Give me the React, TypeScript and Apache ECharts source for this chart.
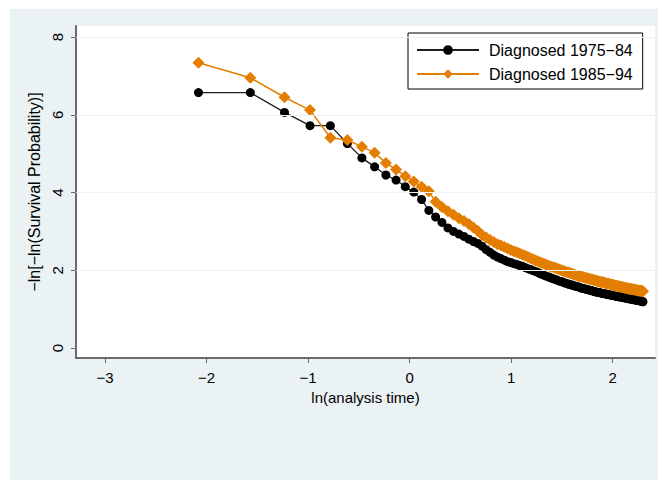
import React, { useEffect, useRef } from "react";
import * as echarts from "echarts";

// Analysis time in months (interval midpoints) at which the curves are evaluated
const months = [
  1.5, 2.5, 3.5, 4.5, 5.5, 6.5, 7.5, 8.5, 9.5, 10.5,
  11.5, 12.5, 13.5, 14.5, 15.5, 16.5, 17.5, 18.5, 19.5, 20.5,
  21.5, 22.5, 23.5, 24.5, 25.5, 26.5, 27.5, 28.5, 29.5, 30.5,
  31.5, 32.5, 33.5, 34.5, 35.5, 36.5, 37.5, 38.5, 39.5, 40.5,
  41.5, 42.5, 43.5, 44.5, 45.5, 46.5, 47.5, 48.5, 49.5, 50.5,
  51.5, 52.5, 53.5, 54.5, 55.5, 56.5, 57.5, 58.5, 59.5, 60.5,
  61.5, 62.5, 63.5, 64.5, 65.5, 66.5, 67.5, 68.5, 69.5, 70.5,
  71.5, 72.5, 73.5, 74.5, 75.5, 76.5, 77.5, 78.5, 79.5, 80.5,
  81.5, 82.5, 83.5, 84.5, 85.5, 86.5, 87.5, 88.5, 89.5, 90.5,
  91.5, 92.5, 93.5, 94.5, 95.5, 96.5, 97.5, 98.5, 99.5, 100.5,
  101.5, 102.5, 103.5, 104.5, 105.5, 106.5, 107.5, 108.5, 109.5, 110.5,
  111.5, 112.5, 113.5, 114.5, 115.5, 116.5, 117.5, 118.5, 119.5,
];

// -ln[-ln(S(t))], diagnosed 1975-84
const diag7584 = [
  6.57, 6.57, 6.06, 5.72, 5.72, 5.26, 4.89, 4.66, 4.45, 4.32,
  4.15, 4.01, 3.82, 3.54, 3.37, 3.23, 3.09, 3.0, 2.93, 2.87,
  2.8, 2.74, 2.69, 2.62, 2.53, 2.46, 2.39, 2.34, 2.3, 2.26,
  2.22, 2.2, 2.17, 2.15, 2.12, 2.1, 2.07, 2.04, 2.02, 1.99,
  1.97, 1.94, 1.91, 1.89, 1.86, 1.84, 1.82, 1.8, 1.78, 1.76,
  1.74, 1.72, 1.71, 1.69, 1.67, 1.66, 1.64, 1.63, 1.62, 1.6,
  1.59, 1.58, 1.57, 1.55, 1.54, 1.53, 1.52, 1.51, 1.5, 1.49,
  1.48, 1.47, 1.46, 1.45, 1.44, 1.43, 1.43, 1.42, 1.41, 1.4,
  1.4, 1.39, 1.38, 1.38, 1.37, 1.37, 1.36, 1.35, 1.35, 1.34,
  1.33, 1.33, 1.32, 1.32, 1.31, 1.31, 1.3, 1.3, 1.29, 1.29,
  1.28, 1.28, 1.27, 1.27, 1.26, 1.26, 1.25, 1.25, 1.24, 1.24,
  1.23, 1.23, 1.22, 1.22, 1.21, 1.21, 1.2, 1.2, 1.19,
];

// -ln[-ln(S(t))], diagnosed 1985-94
const diag8594 = [
  7.34, 6.95, 6.45, 6.12, 5.41, 5.35, 5.18, 5.02, 4.76, 4.59,
  4.42, 4.28, 4.15, 4.03, 3.76, 3.63, 3.52, 3.43, 3.34, 3.27,
  3.19, 3.1, 3.01, 2.91, 2.84, 2.78, 2.73, 2.67, 2.64, 2.6,
  2.56, 2.52, 2.49, 2.46, 2.43, 2.4, 2.37, 2.34, 2.31, 2.28,
  2.25, 2.23, 2.2, 2.18, 2.16, 2.13, 2.11, 2.09, 2.08, 2.06,
  2.04, 2.02, 2.0, 1.98, 1.97, 1.95, 1.94, 1.92, 1.91, 1.89,
  1.88, 1.86, 1.85, 1.84, 1.83, 1.82, 1.81, 1.8, 1.79, 1.78,
  1.77, 1.76, 1.75, 1.74, 1.73, 1.72, 1.71, 1.7, 1.7, 1.69,
  1.68, 1.67, 1.66, 1.65, 1.65, 1.64, 1.63, 1.62, 1.62, 1.61,
  1.6, 1.6, 1.59, 1.58, 1.58, 1.57, 1.56, 1.56, 1.55, 1.55,
  1.54, 1.54, 1.53, 1.52, 1.52, 1.52, 1.51, 1.51, 1.5, 1.5,
  1.49, 1.49, 1.48, 1.48, 1.47, 1.47, 1.47, 1.46, 1.46,
];

const seriesNames = ["Diagnosed 1975\u221284", "Diagnosed 1985\u221294"];
const xTicks = [-3, -2, -1, 0, 1, 2];
const yTicks = [0, 2, 4, 6, 8];
const yGridValues = [2, 4, 6, 8];

const FONT = "'Liberation Sans', Arial, Helvetica, sans-serif";
const BG = "#EAF2F3";
const AXIS_GRAY = "#6a6a6a";
const ORANGE = "#E37E00";

const minus = (v: number) => (v < 0 ? "\u2212" + Math.abs(v) : String(v));

export default function App() {
  const ref = useRef<HTMLDivElement>(null);

  useEffect(() => {
    if (!ref.current) return;
    const chart = echarts.init(ref.current, undefined, { renderer: "svg" });

    const toPoints = (vals: number[]) =>
      months.map((m, i) => [Math.log(m / 12), vals[i]]);

    chart.setOption({
      animation: false,
      backgroundColor: "#ffffff",
      graphic: {
        elements: [
          {
            type: "rect",
            z: -100,
            silent: true,
            shape: { x: 10, y: 9, width: 648, height: 471 },
            style: { fill: BG },
          },
        ],
      },
      grid: {
        left: 76,
        top: 26,
        width: 579,
        height: 332,
        show: true,
        backgroundColor: "#ffffff",
        borderWidth: 0,
      },
      legend: {
        orient: "vertical",
        left: 408,
        top: 33,
        data: seriesNames,
        itemWidth: 62,
        itemHeight: 12,
        itemGap: 8,
        padding: [9, 10, 7, 8],
        backgroundColor: "#ffffff",
        borderColor: "#000000",
        borderWidth: 1,
        borderRadius: 0,
        selectedMode: false,
        textStyle: {
          fontFamily: FONT,
          fontSize: 16,
          color: "#000000",
          padding: [0, 0, 0, 5],
        },
      },
      xAxis: {
        type: "value",
        min: -3.2856,
        max: 2.4166,
        name: "ln(analysis time)",
        nameLocation: "middle",
        nameGap: 20,
        nameTextStyle: { fontFamily: FONT, fontSize: 15, color: "#000" },
        axisLine: {
          show: true,
          onZero: false,
          lineStyle: { color: AXIS_GRAY, width: 2 },
        },
        axisTick: {
          show: true,
          length: 5,
          customValues: xTicks,
          lineStyle: { color: AXIS_GRAY, width: 1 },
        },
        axisLabel: {
          customValues: xTicks,
          formatter: (v: number) => minus(v),
          margin: 12,
          fontFamily: FONT,
          fontSize: 15,
          color: "#000",
        },
        splitLine: { show: false },
      },
      yAxis: {
        type: "value",
        min: -0.257,
        max: 8.283,
        name: "\u2212ln[\u2212ln(Survival Probability)]",
        nameLocation: "middle",
        nameGap: 32,
        nameTextStyle: { fontFamily: FONT, fontSize: 16, color: "#000" },
        axisLine: {
          show: true,
          onZero: false,
          lineStyle: { color: AXIS_GRAY, width: 2 },
        },
        axisTick: {
          show: true,
          length: 5,
          customValues: yTicks,
          lineStyle: { color: AXIS_GRAY, width: 1 },
        },
        axisLabel: {
          customValues: yTicks,
          rotate: 90,
          margin: 11,
          fontFamily: FONT,
          fontSize: 15,
          color: "#000",
        },
        splitLine: { show: false },
      },
      series: [
        {
          // horizontal grid lines
          type: "line",
          data: [],
          silent: true,
          z: 0,
          markLine: {
            silent: true,
            symbol: ["none", "none"],
            label: { show: false },
            lineStyle: { color: BG, width: 1.2, type: "solid" },
            data: yGridValues.map((v) => ({ yAxis: v })),
          },
        },
        {
          name: seriesNames[0],
          type: "line",
          data: toPoints(diag7584),
          symbol: "circle",
          symbolSize: 9,
          color: "#000000",
          itemStyle: { color: "#000000" },
          lineStyle: { color: "#1e1e1e", width: 1.3 },
          silent: true,
          z: 3,
        },
        {
          name: seriesNames[1],
          type: "line",
          data: toPoints(diag8594),
          symbol: "diamond",
          symbolSize: 12,
          color: ORANGE,
          itemStyle: { color: ORANGE },
          lineStyle: { color: ORANGE, width: 1.5 },
          silent: true,
          z: 4,
        },
      ],
    });

    return () => chart.dispose();
  }, []);

  return (
    <div
      ref={ref}
      style={{ position: "fixed", left: 0, top: 0, width: 659, height: 482 }}
    />
  );
}
